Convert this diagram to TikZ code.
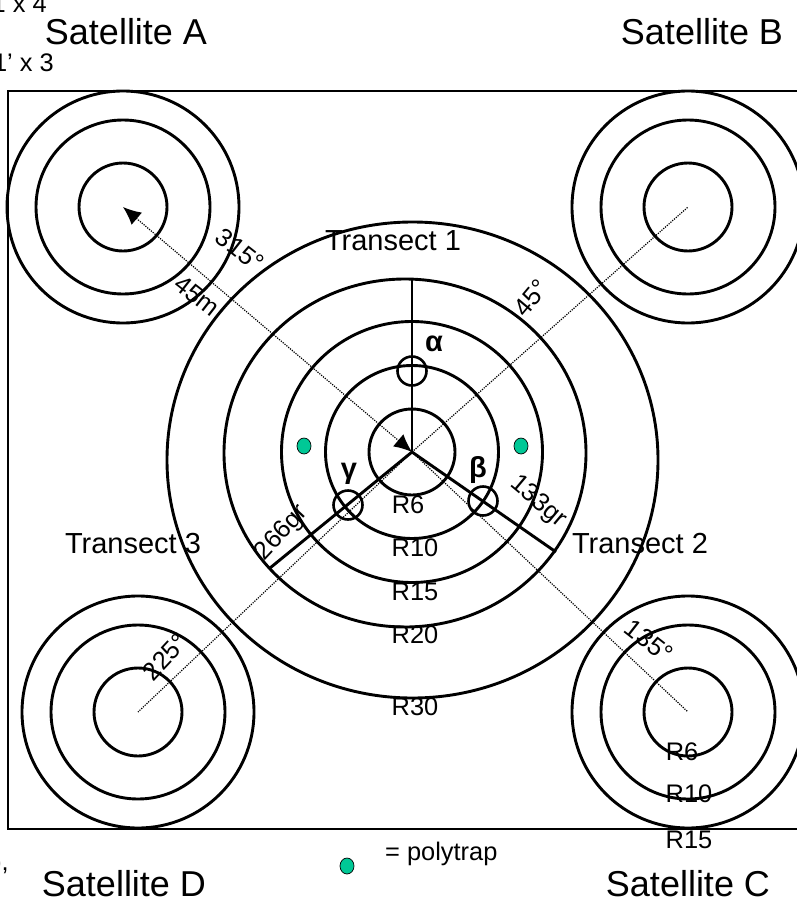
\documentclass[tikz,border=0pt]{standalone}
\usepackage{fontspec}
\setmainfont{Liberation Sans}
\usepackage{tikz}
\usetikzlibrary{arrows.meta,shapes.geometric}

\definecolor{trapgreen}{RGB}{0,200,150}

\begin{document}
\begin{tikzpicture}[x=1pt,y=-1pt,
        ring/.style = {line width=2.9pt},
        spoke/.style = {line width=2.9pt},
        sightline/.style = {line width=1.2pt, dash pattern=on 1.2pt off 1.2pt},
        station/.style = {circle, draw, line width=2.6pt, minimum size=29pt, inner sep=0pt},
        trap/.style = {ellipse, draw, line width=0.7pt, fill=trapgreen, minimum width=14pt, minimum height=16pt, inner sep=0pt},
        sat/.style = {inner sep=0pt, font=\fontsize{36}{40}\selectfont},
        transect/.style = {inner sep=0pt, font=\fontsize{29}{32}\selectfont},
        lab/.style = {inner sep=0pt, font=\fontsize{25.4}{30}\selectfont},
        greek/.style = {inner sep=0pt, font=\fontsize{29}{32}\selectfont\bfseries}]

        \useasboundingbox (0,0) rectangle (796,899);

        % Plot outline
        \draw[line width=1.7pt] (8,91) rectangle (815,829);

        % Centres
        \coordinate (hub) at (412,452);
        \coordinate (satA) at (123,207);
        \coordinate (satB) at (688,207);
        \coordinate (satC) at (688,712);
        \coordinate (satD) at (138,712);

        % Main plot rings
        \draw[ring] (hub) circle(43pt);
        \draw[ring] (hub) circle(86.5pt);
        \draw[ring] (hub) circle(130.5pt);
        \draw[ring] (405,453) circle[x radius=181pt, y radius=174pt];
        \draw[ring] (412.5,460) circle[x radius=245.5pt, y radius=238pt];

        % Satellite rings
        \foreach \satname in {satA,satB,satC,satD}{
            \draw[ring] (\satname) circle(44pt);
            \draw[ring] (\satname) circle(87pt);
            \draw[ring] (\satname) circle(116pt);
        }

        % Transect ends
        \coordinate (endA) at (412,279);
        \coordinate (endB) at (556,552);
        \coordinate (endC) at (270,568);

        % Sight lines
        \draw[sightline,{Latex[length=18pt,width=16pt]}-{Latex[length=18pt,width=16pt]}] (satA) -- (hub);
        \draw[sightline] (hub) -- (satB);
        \draw[sightline] (hub) -- (satC);
        \draw[sightline] (hub) -- (satD);

        % Transects
        \draw[spoke] (hub) -- (endA);
        \draw[spoke] (hub) -- (endB);
        \draw[spoke] (hub) -- (endC);

        % Stations
        \node[station] (alpha) at (412,371){};
        \node[station] (beta) at (483,501){};
        \node[station] (gamma) at (348,505){};
        \node[greek] (alphatext) at (434,344){α};
        \node[greek] (betatext) at (478,470){β};
        \node[greek] (gammatext) at (349,474){γ};

        % Polytraps
        \node[trap] (trapL) at (304,446){};
        \node[trap] (trapR) at (521,446){};
        \node[trap] (trapkey) at (347,866){};
        \node[lab,anchor=west] (trapkeytext) at (385,854){= polytrap};

        % Satellite names
        \node[sat] (nameA) at (126,32){Satellite A};
        \node[sat] (nameB) at (702,32){Satellite B};
        \node[sat] (nameC) at (688,884){Satellite C};
        \node[sat] (nameD) at (124,884){Satellite D};

        % Transect names
        \node[transect] (tone) at (393,241){Transect 1};
        \node[transect] (ttwo) at (640,544){Transect 2};
        \node[transect] (tthree) at (133,544){Transect 3};

        % Radius labels
        \node[lab] (rsix) at (408,505){R6};
        \node[lab] (rten) at (415,548){R10};
        \node[lab] (rfifteen) at (415,592){R15};
        \node[lab] (rtwenty) at (415,635){R20};
        \node[lab] (rthirty) at (415,707){R30};
        \node[lab] (satrsix) at (682,752){R6};
        \node[lab] (satrten) at (689,794){R10};
        \node[lab] (satrfifteen) at (689,840){R15};

        % Bearings and distances
        \node[lab,rotate=-38] (brgA) at (240,250){315°};
        \node[lab,rotate=-38] (distA) at (197,296){45m};
        \node[lab,rotate=50] (brgB) at (531,298){45°};
        \node[lab,rotate=-38] (brgC) at (649,641){135°};
        \node[lab,rotate=47] (brgD) at (165,657){225°};
        \node[lab,rotate=47] (grC) at (282,533){266gr};
        \node[lab,rotate=-40] (grB) at (538,502){133gr};

        % Cut off at the page edge
        \node[lab,anchor=east] (cutone) at (47,4){1 x 4};
        \node[lab,anchor=east] (cuttwo) at (54,63){1’ x 3};
        \node[lab,anchor=east] (cutthree) at (9,864){),};

    \end{tikzpicture}
\end{document}
